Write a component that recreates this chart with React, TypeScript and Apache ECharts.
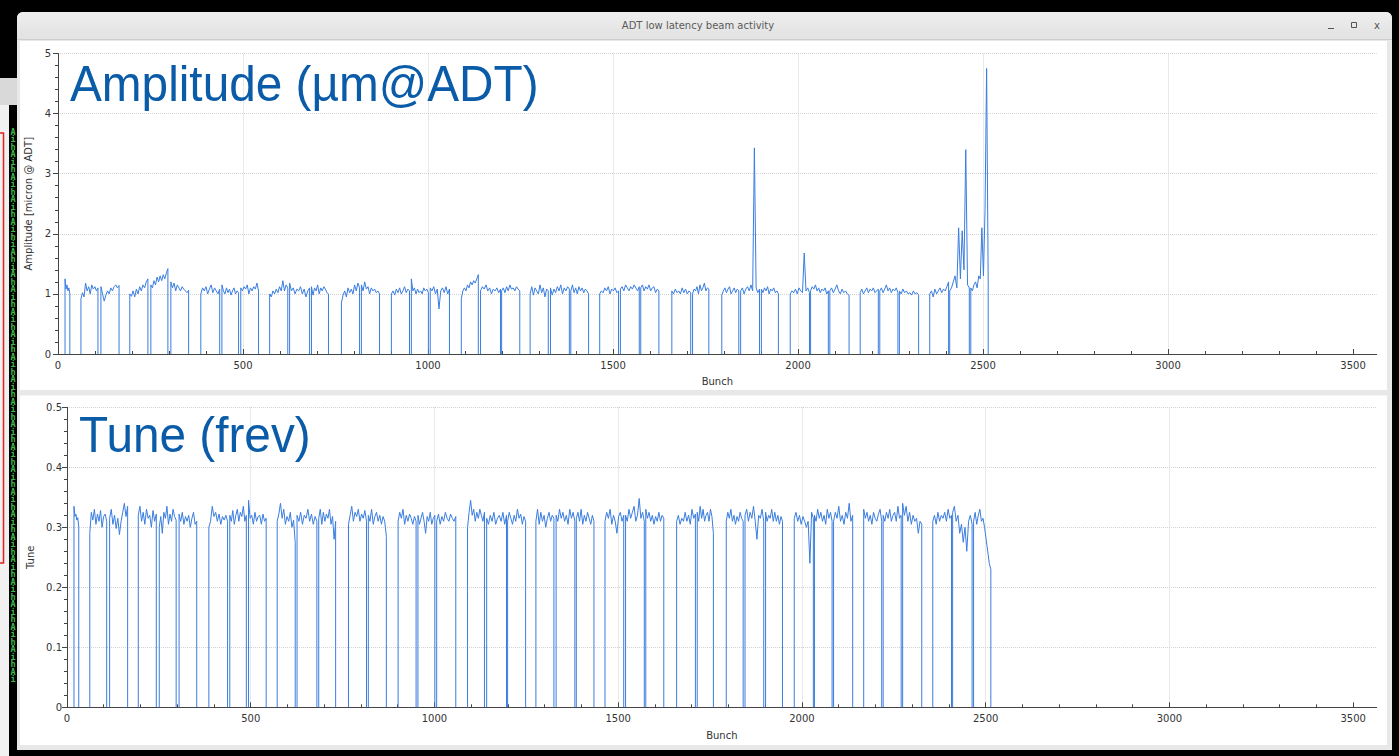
import React, { useEffect, useRef } from 'react';
import * as echarts from 'echarts';

const windowTitle = 'ADT low latency beam activity';
const ampTitle = 'Amplitude (µm@ADT)';
const tuneTitle = 'Tune (frev)';
const ampAxisName = 'Amplitude [micron @ ADT]';
const tuneAxisName = 'Tune';
const xAxisName = 'Bunch';
const xTicks = [0, 500, 1000, 1500, 2000, 2500, 3000, 3500];
const bunchSlots = 3564;
const stripLetters = 'AihAihAihAihAihiAhiAhAihAihAihAihAihAihAihAihAihAihAihAihAihAihAihAihAihAi';

// batch boundaries (bunch numbers)
const batchStart = [19, 62, 116, 194, 251, 305, 386, 443, 494, 572, 626, 685, 766, 820, 901, 955, 1006, 1090, 1142, 1199, 1276, 1331, 1386, 1464, 1520, 1575, 1659, 1715, 1794, 1845, 1901, 1979, 2034, 2086, 2168, 2221, 2274, 2356, 2410, 2467];
const batchEnd = [32, 108, 165, 243, 297, 353, 437, 488, 542, 621, 680, 731, 815, 869, 950, 1001, 1058, 1136, 1196, 1248, 1325, 1382, 1434, 1515, 1571, 1624, 1710, 1759, 1840, 1896, 1947, 2031, 2082, 2138, 2217, 2270, 2326, 2407, 2463, 2514];

// amplitude per train (one inner list per batch)
const ampPilot = [[1.25, 1.08, 1.15, 1.05, 1.1, 1.0]];
const ampTrain1 = [
  [0.92, 1.02, 0.95, 1.18, 1.05, 1.12, 1.0, 1.15, 1.08, 1.12, 1.05, 1.1],
  [1.12, 1.0, 0.88, 0.98, 1.05, 1.0, 1.1, 1.05, 1.12, 1.15, 1.1, 1.14],
];
const ampTrain2 = [
  [1.0, 0.96, 1.05, 0.95, 1.08, 1.0, 1.12, 1.05, 1.15, 1.1, 1.2, 1.25],
  [1.15, 1.1, 1.22, 1.15, 1.28, 1.2, 1.3, 1.22, 1.32, 1.25, 1.35, 1.42],
  [1.2, 1.1, 1.18, 1.05, 1.15, 1.1, 1.05, 1.12, 1.08, 1.05, 1.02, 1.06],
];
const ampTrain3 = [
  [1.0, 1.1, 1.05, 1.12, 1.0, 1.08, 1.15, 1.02, 1.1, 1.05, 1.0, 1.08],
  [1.15, 1.05, 1.0, 1.1, 1.02, 1.08, 0.98, 1.05, 1.1, 1.0, 1.05, 1.02],
  [1.1, 1.05, 1.12, 1.08, 1.15, 1.0, 1.1, 1.05, 1.12, 1.08, 1.18, 1.05],
];
const ampTrain4 = [
  [1.0, 0.95, 1.05, 1.0, 1.08, 1.02, 1.12, 1.05, 1.22, 1.05, 1.15, 1.1],
  [1.18, 1.05, 1.1, 1.0, 1.08, 1.05, 1.12, 1.0, 1.08, 0.95, 1.05, 1.1],
  [1.12, 0.98, 1.1, 1.05, 1.15, 1.0, 1.1, 1.05, 1.12, 1.08, 1.02, 1.0],
];
const ampTrain5 = [
  [0.85, 0.98, 1.05, 0.95, 1.1, 1.02, 1.08, 1.0, 1.15, 1.05, 1.18, 1.1],
  [1.15, 1.05, 1.2, 1.08, 1.12, 1.0, 1.1, 1.05, 1.08, 1.02, 1.05, 1.0],
];
const ampTrain6 = [
  [1.0, 1.05, 0.98, 1.08, 1.02, 1.1, 1.0, 1.05, 1.12, 1.02, 1.08, 1.05],
  [1.25, 1.05, 1.1, 1.0, 1.08, 1.02, 1.05, 1.0, 1.1, 1.05, 1.08, 1.02],
  [1.1, 1.05, 1.12, 1.0, 1.08, 0.75, 1.05, 1.1, 1.02, 1.12, 1.0, 1.08],
];
const ampTrain7 = [
  [0.92, 1.05, 1.1, 1.05, 1.15, 1.1, 1.2, 1.15, 1.22, 1.18, 1.25, 1.32],
  [1.05, 1.12, 1.08, 1.15, 1.05, 1.1, 1.0, 1.08, 1.05, 1.1, 1.02, 1.08],
  [1.05, 1.1, 1.02, 1.12, 1.05, 1.15, 1.08, 1.1, 1.05, 1.12, 1.08, 1.05],
];
const ampTrain8 = [
  [1.0, 1.12, 0.98, 1.1, 1.05, 1.0, 1.15, 1.02, 1.1, 0.95, 1.08, 1.05],
  [1.1, 0.98, 1.08, 1.02, 1.12, 1.05, 1.15, 1.0, 1.1, 1.05, 1.12, 1.08],
  [1.05, 1.15, 1.02, 1.1, 1.0, 1.12, 1.05, 1.1, 1.02, 1.08, 1.05, 1.0],
];
const ampTrain9 = [
  [1.0, 1.05, 1.02, 1.1, 1.05, 1.12, 1.0, 1.08, 1.05, 1.1, 1.02, 1.05],
  [1.08, 1.12, 1.05, 1.15, 1.1, 1.05, 1.12, 1.08, 1.15, 1.1, 1.05, 1.12],
  [1.1, 1.15, 1.05, 1.12, 1.08, 1.15, 1.05, 1.1, 1.12, 1.02, 1.08, 1.05],
];
const ampTrain10 = [
  [1.05, 1.0, 1.08, 1.02, 1.05, 1.0, 1.1, 1.02, 1.08, 1.0, 1.05, 1.02],
  [1.0, 1.08, 1.05, 1.12, 1.0, 1.15, 1.05, 1.1, 1.18, 1.05, 1.1, 1.08],
];
const ampTrain11 = [
  [0.98, 1.05, 1.1, 1.02, 1.08, 1.12, 1.0, 1.05, 1.1, 1.02, 1.08, 1.05],
  [1.05, 1.1, 1.0, 1.08, 1.12, 1.05, 1.15, 1.05, 3.43, 1.1, 1.02, 1.08],
  [1.08, 1.02, 1.1, 1.05, 1.12, 1.0, 1.08, 1.05, 1.1, 1.02, 1.05, 1.0],
];
const ampTrain12 = [
  [1.0, 1.05, 1.02, 1.08, 1.0, 1.1, 1.05, 1.02, 1.68, 1.05, 1.1, 1.02],
  [1.05, 1.12, 1.08, 1.15, 1.05, 1.1, 1.02, 1.08, 1.05, 1.1, 1.0, 1.05],
  [1.05, 1.1, 1.02, 1.08, 1.15, 1.05, 1.0, 1.08, 1.02, 1.05, 1.0, 0.98],
];
const ampTrain13 = [
  [1.02, 1.08, 1.0, 1.05, 1.1, 1.02, 1.08, 1.05, 1.1, 1.02, 1.05, 1.08],
  [1.05, 1.1, 1.02, 1.08, 1.15, 1.05, 1.1, 1.02, 1.08, 1.05, 1.1, 1.02],
  [1.05, 1.0, 1.08, 1.02, 1.05, 1.0, 1.02, 0.98, 1.05, 1.0, 1.02, 0.98],
];
const ampTrain14 = [
  [1.0, 1.05, 0.95, 1.08, 1.0, 1.05, 1.1, 1.02, 1.08, 1.05, 1.12, 1.2],
  [1.05, 1.1, 1.2, 1.3, 1.1, 2.1, 1.25, 2.05, 1.4, 3.4, 1.15, 1.1],
  [1.1, 1.05, 1.15, 1.2, 1.1, 1.3, 1.25, 2.1, 1.3, 2.4, 4.75, 1.2],
];

// tune per train (one inner list per batch)
const tunePilot = [[0.335, 0.318, 0.322, 0.312, 0.316, 0.3]];
const tuneTrain1 = [
  [0.29, 0.325, 0.312, 0.33, 0.305, 0.322, 0.31, 0.328, 0.3, 0.318, 0.322, 0.31],
  [0.315, 0.33, 0.305, 0.32, 0.298, 0.315, 0.288, 0.31, 0.325, 0.34, 0.318, 0.335],
];
const tuneTrain2 = [
  [0.32, 0.335, 0.31, 0.325, 0.305, 0.33, 0.315, 0.32, 0.3, 0.328, 0.31, 0.322],
  [0.3, 0.318, 0.29, 0.325, 0.315, 0.335, 0.305, 0.322, 0.31, 0.33, 0.318, 0.312],
  [0.322, 0.31, 0.325, 0.305, 0.318, 0.31, 0.32, 0.3, 0.315, 0.325, 0.305, 0.31],
];
const tuneTrain3 = [
  [0.3, 0.31, 0.335, 0.318, 0.325, 0.31, 0.322, 0.305, 0.318, 0.312, 0.32, 0.31],
  [0.32, 0.31, 0.328, 0.305, 0.32, 0.33, 0.31, 0.325, 0.318, 0.335, 0.31, 0.32],
  [0.345, 0.315, 0.32, 0.305, 0.325, 0.31, 0.318, 0.32, 0.305, 0.322, 0.31, 0.315],
];
const tuneTrain4 = [
  [0.31, 0.322, 0.34, 0.315, 0.33, 0.305, 0.318, 0.31, 0.325, 0.3, 0.312, 0.275],
  [0.32, 0.31, 0.325, 0.305, 0.32, 0.315, 0.33, 0.31, 0.322, 0.305, 0.318, 0.31],
  [0.315, 0.33, 0.305, 0.325, 0.31, 0.322, 0.315, 0.33, 0.305, 0.318, 0.28, 0.31],
];
const tuneTrain5 = [
  [0.305, 0.32, 0.335, 0.31, 0.325, 0.318, 0.33, 0.31, 0.322, 0.315, 0.328, 0.31],
  [0.32, 0.31, 0.33, 0.305, 0.318, 0.325, 0.31, 0.32, 0.305, 0.318, 0.31, 0.285],
];
const tuneTrain6 = [
  [0.31, 0.325, 0.315, 0.33, 0.305, 0.32, 0.31, 0.322, 0.315, 0.305, 0.318, 0.31],
  [0.32, 0.305, 0.315, 0.325, 0.31, 0.29, 0.318, 0.31, 0.325, 0.305, 0.315, 0.32],
  [0.31, 0.322, 0.305, 0.318, 0.31, 0.325, 0.315, 0.31, 0.322, 0.315, 0.31, 0.318],
];
const tuneTrain7 = [
  [0.3, 0.325, 0.345, 0.32, 0.33, 0.31, 0.325, 0.315, 0.33, 0.32, 0.31, 0.325],
  [0.315, 0.305, 0.32, 0.31, 0.325, 0.305, 0.315, 0.32, 0.31, 0.325, 0.305, 0.32],
  [0.31, 0.325, 0.315, 0.305, 0.32, 0.31, 0.33, 0.315, 0.322, 0.305, 0.318, 0.31],
];
const tuneTrain8 = [
  [0.31, 0.33, 0.305, 0.325, 0.31, 0.32, 0.3, 0.315, 0.325, 0.31, 0.32, 0.315],
  [0.32, 0.31, 0.33, 0.315, 0.325, 0.31, 0.32, 0.305, 0.33, 0.315, 0.325, 0.31],
  [0.315, 0.325, 0.31, 0.33, 0.305, 0.32, 0.31, 0.325, 0.315, 0.305, 0.32, 0.31],
];
const tuneTrain9 = [
  [0.31, 0.325, 0.315, 0.33, 0.305, 0.32, 0.31, 0.29, 0.318, 0.325, 0.31, 0.32],
  [0.32, 0.31, 0.33, 0.315, 0.325, 0.335, 0.31, 0.32, 0.348, 0.315, 0.325, 0.31],
  [0.33, 0.315, 0.325, 0.31, 0.32, 0.305, 0.318, 0.31, 0.325, 0.31, 0.32, 0.315],
];
const tuneTrain10 = [
  [0.31, 0.32, 0.305, 0.315, 0.31, 0.325, 0.31, 0.32, 0.305, 0.33, 0.315, 0.322],
  [0.325, 0.31, 0.335, 0.315, 0.33, 0.31, 0.32, 0.325, 0.31, 0.33, 0.318, 0.29],
];
const tuneTrain11 = [
  [0.31, 0.325, 0.315, 0.33, 0.31, 0.32, 0.305, 0.318, 0.31, 0.325, 0.315, 0.31],
  [0.32, 0.33, 0.31, 0.325, 0.315, 0.335, 0.31, 0.28, 0.32, 0.315, 0.33, 0.31],
  [0.325, 0.31, 0.32, 0.315, 0.33, 0.31, 0.325, 0.31, 0.32, 0.305, 0.318, 0.31],
];
const tuneTrain12 = [
  [0.315, 0.325, 0.31, 0.32, 0.305, 0.318, 0.31, 0.3, 0.31, 0.24, 0.325, 0.315],
  [0.32, 0.31, 0.33, 0.315, 0.325, 0.31, 0.32, 0.305, 0.33, 0.315, 0.325, 0.31],
  [0.31, 0.325, 0.315, 0.335, 0.31, 0.32, 0.305, 0.325, 0.315, 0.34, 0.31, 0.32],
];
const tuneTrain13 = [
  [0.33, 0.315, 0.325, 0.31, 0.32, 0.305, 0.325, 0.315, 0.31, 0.322, 0.33, 0.31],
  [0.32, 0.31, 0.325, 0.315, 0.33, 0.31, 0.32, 0.325, 0.31, 0.335, 0.315, 0.32],
  [0.34, 0.32, 0.335, 0.31, 0.325, 0.305, 0.32, 0.31, 0.315, 0.29, 0.31, 0.305],
];
const tuneTrain14 = [
  [0.31, 0.32, 0.305, 0.325, 0.31, 0.32, 0.315, 0.325, 0.31, 0.33, 0.315, 0.32],
  [0.325, 0.335, 0.31, 0.32, 0.29, 0.305, 0.275, 0.3, 0.26, 0.31, 0.32, 0.305],
  [0.31, 0.325, 0.305, 0.32, 0.33, 0.31, 0.315, 0.3, 0.28, 0.26, 0.24, 0.23],
];

const ampTrains = [ampPilot, ampTrain1, ampTrain2, ampTrain3, ampTrain4, ampTrain5, ampTrain6, ampTrain7, ampTrain8, ampTrain9, ampTrain10, ampTrain11, ampTrain12, ampTrain13, ampTrain14];
const tuneTrains = [tunePilot, tuneTrain1, tuneTrain2, tuneTrain3, tuneTrain4, tuneTrain5, tuneTrain6, tuneTrain7, tuneTrain8, tuneTrain9, tuneTrain10, tuneTrain11, tuneTrain12, tuneTrain13, tuneTrain14];

function buildLine(trains: number[][][]) {
  const batches = trains.flat();
  const data: (number | string)[][] = [];
  batches.forEach((vals, i) => {
    const s = batchStart[i];
    const e = batchEnd[i];
    data.push([s, 0]);
    vals.forEach((v, k) => data.push([s + ((e - s) * k) / (vals.length - 1), v]));
    data.push([e, 0]);
    data.push([e, '-']);
  });
  return data;
}

const FONT = 'DejaVu Sans';
const AXIS_COLOR = '#444';
const LABEL_COLOR = '#333';
const LINE_COLOR = '#3a7ddf';
const BIG_TEXT_COLOR = '#0b5ca8';

function makeX(gridIndex: number, nameGap: number) {
  return {
    type: 'value',
    gridIndex,
    min: 0,
    max: bunchSlots,
    interval: 500,
    name: xAxisName,
    nameLocation: 'middle',
    nameGap,
    nameTextStyle: { color: LABEL_COLOR, fontSize: 10, fontFamily: FONT },
    axisLine: { show: true, onZero: false, lineStyle: { color: AXIS_COLOR, width: 1 } },
    axisTick: { show: true, inside: true, length: 5, customValues: xTicks, lineStyle: { color: AXIS_COLOR } },
    minorTick: { show: true, splitNumber: 5, length: 3, lineStyle: { color: AXIS_COLOR } },
    axisLabel: {
      color: LABEL_COLOR, fontSize: 10, fontFamily: FONT, margin: 6, customValues: xTicks,
      formatter: (v: number) => String(v),
    },
    splitLine: { show: true, showMaxLine: false, lineStyle: { color: '#d2d2d2', type: 'dotted', width: 1 } },
  };
}

function makeY(gridIndex: number, max: number, interval: number, name: string, nameGap: number, margin: number) {
  return {
    type: 'value',
    gridIndex,
    min: 0,
    max,
    interval,
    name,
    nameLocation: 'middle',
    nameGap,
    nameTextStyle: { color: LABEL_COLOR, fontSize: 10, fontFamily: FONT },
    axisLine: { show: true, onZero: false, lineStyle: { color: AXIS_COLOR, width: 1 } },
    axisTick: { show: true, inside: false, length: 5, lineStyle: { color: AXIS_COLOR } },
    minorTick: { show: true, splitNumber: 5, length: 3, lineStyle: { color: AXIS_COLOR } },
    axisLabel: { color: LABEL_COLOR, fontSize: 10, fontFamily: FONT, margin },
    splitLine: { show: true, lineStyle: { color: '#d2d2d2', type: 'dotted', width: 1 } },
  };
}

export default function App() {
  const ref = useRef<HTMLDivElement>(null);
  useEffect(() => {
    if (!ref.current) return;
    const chart = echarts.init(ref.current, undefined, { renderer: 'svg' });
    const bg = (x: number, y: number, w: number, h: number, fill: string, r: any = 0) => ({
      type: 'rect', z: -10, silent: true, shape: { x, y, width: w, height: h, r }, style: { fill },
    });
    const option: any = {
      animation: false,
      backgroundColor: '#000',
      graphic: [
        // left neighbour windows
        bg(0, 78, 17, 27, '#d9d9d9'),
        bg(0, 105, 9, 651, '#f1f1f1'),
        {
          type: 'rect', z: -9, silent: true,
          shape: { x: -10, y: 133, width: 13.5, height: 430 },
          style: { fill: 'none', stroke: '#e0201c', lineWidth: 1.5 },
        },
        {
          type: 'text', z: -9, silent: true, x: 13, y: 128,
          style: {
            text: stripLetters.split('').join('\n'),
            fontSize: 8.5, lineHeight: 7.5, fontFamily: 'DejaVu Sans Mono', fontWeight: 'bold',
            fill: '#3fb94a', align: 'center', verticalAlign: 'top',
          },
        },
        // window frame
        bg(17, 12, 1375, 738, '#e8e8e8', [6, 6, 0, 0]),
        {
          type: 'rect', z: -9, silent: true,
          shape: { x: 17, y: 12, width: 1375, height: 27, r: [6, 6, 0, 0] },
          style: {
            fill: new echarts.graphic.LinearGradient(0, 0, 0, 1, [
              { offset: 0, color: '#eeeeee' },
              { offset: 1, color: '#e2e2e2' },
            ]),
          },
        },
        {
          type: 'line', z: -8, silent: true,
          shape: { x1: 17, y1: 39.5, x2: 1392, y2: 39.5 },
          style: { stroke: '#cdcdcd', lineWidth: 1 },
        },
        {
          type: 'text', z: -8, silent: true, x: 698, y: 25,
          style: { text: windowTitle, fontSize: 10, fontFamily: FONT, fill: '#5a5a5a', align: 'center', verticalAlign: 'middle' },
        },
        {
          type: 'line', z: -8, silent: true,
          shape: { x1: 1328, y1: 28.5, x2: 1334, y2: 28.5 },
          style: { stroke: '#555', lineWidth: 1 },
        },
        {
          type: 'rect', z: -8, silent: true,
          shape: { x: 1351.5, y: 22.5, width: 5, height: 5 },
          style: { fill: 'none', stroke: '#555', lineWidth: 1 },
        },
        {
          type: 'text', z: -8, silent: true, x: 1377, y: 25,
          style: { text: 'x', fontSize: 10, fontFamily: FONT, fill: '#555', align: 'center', verticalAlign: 'middle' },
        },
        bg(20, 41, 1367, 349, '#ffffff'),
        bg(20, 395.5, 1367, 349.5, '#ffffff'),
        // overlay titles
        {
          type: 'text', z: 10, silent: true, x: 70, y: 83.4, scaleX: 0.955,
          style: { text: ampTitle, fontSize: 50, fontFamily: 'Liberation Sans', fill: BIG_TEXT_COLOR, verticalAlign: 'middle' },
        },
        {
          type: 'text', z: 10, silent: true, x: 79, y: 435, scaleX: 0.955,
          style: { text: tuneTitle, fontSize: 50, fontFamily: 'Liberation Sans', fill: BIG_TEXT_COLOR, verticalAlign: 'middle' },
        },
      ],
      grid: [
        { left: 58, right: 22.3, top: 53.5, height: 300.5 },
        { left: 67, right: 22.3, top: 407.3, height: 300 },
      ],
      xAxis: [makeX(0, 22), makeX(1, 23)],
      yAxis: [
        makeY(0, 5, 1, ampAxisName, 20, 7),
        makeY(1, 0.5, 0.1, tuneAxisName, 28, 5),
      ],
      series: [
        {
          type: 'line', xAxisIndex: 0, yAxisIndex: 0, data: buildLine(ampTrains),
          showSymbol: false, symbol: 'none', connectNulls: false,
          lineStyle: { color: LINE_COLOR, width: 1 }, itemStyle: { color: LINE_COLOR },
        },
        {
          type: 'line', xAxisIndex: 1, yAxisIndex: 1, data: buildLine(tuneTrains),
          showSymbol: false, symbol: 'none', connectNulls: false,
          lineStyle: { color: LINE_COLOR, width: 1 }, itemStyle: { color: LINE_COLOR },
        },
      ],
    };
    chart.setOption(option);
    return () => chart.dispose();
  }, []);
  return <div ref={ref} style={{ position: 'absolute', left: 0, top: 0, width: 1399, height: 756 }} />;
}
